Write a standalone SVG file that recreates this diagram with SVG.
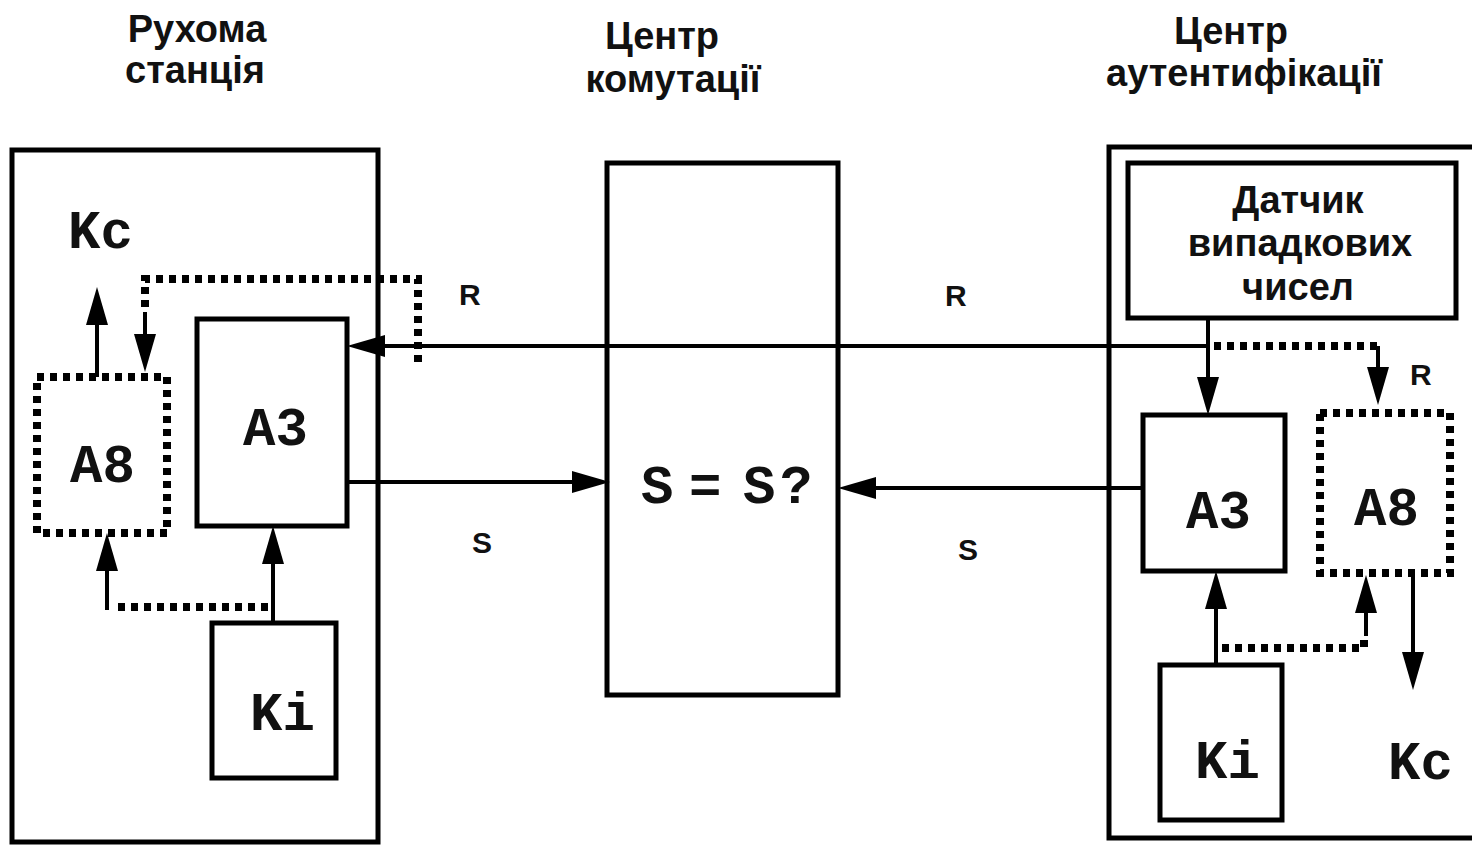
<svg xmlns="http://www.w3.org/2000/svg" width="1472" height="845" viewBox="0 0 1472 845">
<style>
.box{fill:none;stroke:#000;stroke-width:5}
.dot{fill:none;stroke:#000;stroke-width:8;stroke-dasharray:7 6}
.ln{fill:none;stroke:#000;stroke-width:4}
.hdr{font-family:"Liberation Sans",Arial,sans-serif;font-weight:bold;font-size:38px;text-anchor:middle;fill:#111}
.mono{font-family:"Liberation Mono","Courier New",monospace;font-weight:bold;font-size:54px;fill:#111}
.lbl{font-family:"Liberation Sans",Arial,sans-serif;font-weight:bold;font-size:30px;fill:#111}
.gen{font-family:"Liberation Sans",Arial,sans-serif;font-weight:bold;font-size:38px;text-anchor:middle;fill:#111}
</style>
<defs>
<marker id="ah" markerUnits="userSpaceOnUse" markerWidth="42" markerHeight="26" refX="28" refY="12" orient="auto">
<path d="M0,1 L38,12 L0,23 Z" fill="#000"/>
</marker>
</defs>
<rect width="1472" height="845" fill="#fff"/>

<g id="headers">
<text class="hdr" x="197" y="42">Рухома</text>
<text class="hdr" x="195" y="83">станція</text>
<text class="hdr" x="662" y="49">Центр</text>
<text class="hdr" x="673" y="92">комутації</text>
<text class="hdr" x="1231" y="44">Центр</text>
<text class="hdr" x="1244" y="86">аутентифікації</text>
</g>

<g id="mobile-station">
<rect class="box" x="12" y="150" width="366" height="692"/>
<text class="mono" x="68" y="248">Kc</text>
</g>
<g id="ms-a8">
<rect class="dot" x="37" y="377" width="130" height="156"/>
<text class="mono" x="70" y="482">A8</text>
</g>
<g id="ms-a3">
<rect class="box" x="197" y="319" width="150" height="207"/>
<text class="mono" x="243" y="445">A3</text>
</g>
<g id="ms-ki">
<rect class="box" x="212" y="623" width="124" height="155"/>
<text class="mono" x="250" y="730">Ki</text>
</g>

<g id="switching-center">
<rect class="box" x="607" y="163" width="231" height="532"/>
<text class="mono" x="641 670 689 720 743 780" y="503" font-size="46">S = S?</text>
</g>

<g id="auth-center">
<rect class="box" x="1109" y="147" width="380" height="691"/>
<text class="mono" x="1388" y="779">Kc</text>
</g>
<g id="ac-rng">
<rect class="box" x="1128" y="163" width="328" height="155"/>
<text class="gen" x="1298" y="213">Датчик</text>
<text class="gen" x="1300" y="256">випадкових</text>
<text class="gen" x="1298" y="300">чисел</text>
</g>
<g id="ac-a3">
<rect class="box" x="1143" y="415" width="142" height="156"/>
<text class="mono" x="1186" y="528">A3</text>
</g>
<g id="ac-a8">
<rect class="dot" x="1320" y="413" width="130" height="160"/>
<text class="mono" x="1354" y="525">A8</text>
</g>
<g id="ac-ki">
<rect class="box" x="1160" y="665" width="122" height="155"/>
<text class="mono" x="1195" y="778">Ki</text>
</g>

<g id="connectors">
<path class="ln" d="M1208,318 V405" marker-end="url(#ah)"/>
<path class="ln" d="M1208,346 H357" marker-end="url(#ah)"/>
<path class="dot" d="M1214,346 H1378"/>
<path class="ln" d="M1378,346 V395" marker-end="url(#ah)"/>
<path class="dot" d="M418,362 V279 H145 V312"/>
<path class="ln" d="M145,312 V362" marker-end="url(#ah)"/>
<path class="ln" d="M97,377 V297" marker-end="url(#ah)"/>
<path class="ln" d="M347,482 H600" marker-end="url(#ah)"/>
<path class="ln" d="M1143,488 H848" marker-end="url(#ah)"/>
<path class="ln" d="M273,623 V536" marker-end="url(#ah)"/>
<path class="dot" d="M268,607 H112"/>
<path class="ln" d="M107,610 V543" marker-end="url(#ah)"/>
<path class="ln" d="M1216,665 V581" marker-end="url(#ah)"/>
<path class="dot" d="M1222,648 H1364 V634"/>
<path class="ln" d="M1366,636 V585" marker-end="url(#ah)"/>
<path class="ln" d="M1413,573 V680" marker-end="url(#ah)"/>
<text class="lbl" x="459" y="305">R</text>
<text class="lbl" x="945" y="306">R</text>
<text class="lbl" x="1410" y="385">R</text>
<text class="lbl" x="472" y="553">S</text>
<text class="lbl" x="958" y="560">S</text>
</g>
</svg>
